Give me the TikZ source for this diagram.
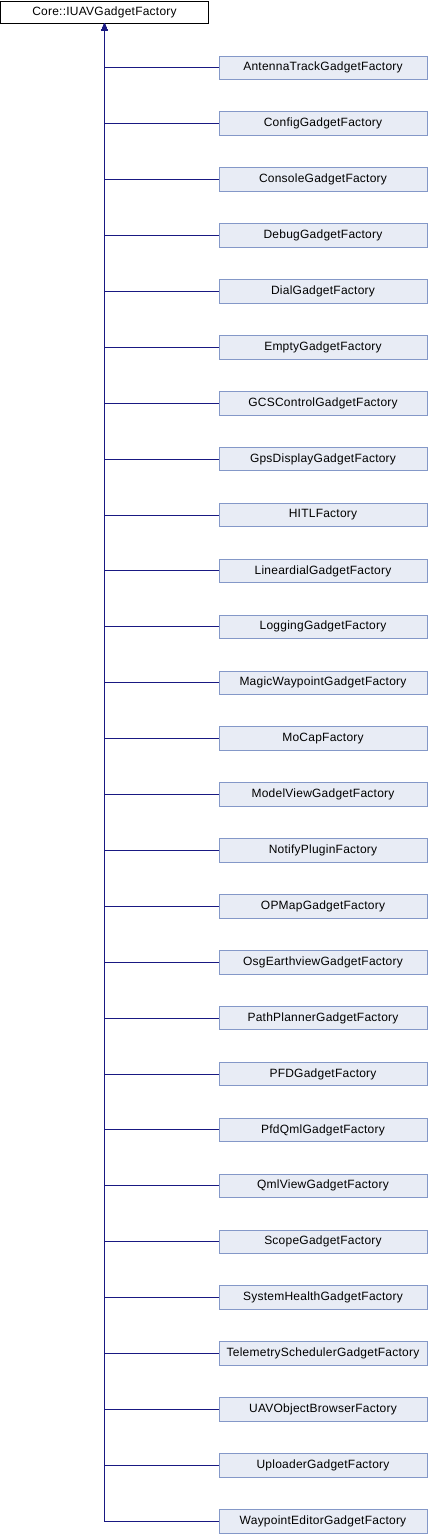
\documentclass[tikz,border=0pt]{standalone}
\usepackage{fontspec}
\setmainfont{Liberation Sans}[LetterSpace=2]
\usetikzlibrary{arrows.meta}
\definecolor{edgeblue}{RGB}{25,25,130}
\definecolor{boxfill}{RGB}{232,236,245}
\definecolor{boxline}{RGB}{132,152,200}
\begin{document}
\begin{tikzpicture}[x=1pt,y=-1pt,
  basebox/.style={draw=black,fill=white,line width=0.9pt,minimum width=208pt,minimum height=22pt,inner sep=0pt,font=\fontsize{12}{12}\selectfont},
  childbox/.style={draw=boxline,fill=boxfill,line width=0.9pt,minimum width=208pt,minimum height=23.5pt,inner sep=0pt,font=\fontsize{12}{12}\selectfont},
  edge/.style={draw=edgeblue,line width=1pt,-{Triangle[width=6pt,length=7pt]}}]
\useasboundingbox (0,0) rectangle (428,1536);
\node[basebox] (base) at (104.5,12) {Core::IUAVGadgetFactory};
\foreach \name [count=\i from 0] in {AntennaTrackGadgetFactory,ConfigGadgetFactory,ConsoleGadgetFactory,DebugGadgetFactory,DialGadgetFactory,EmptyGadgetFactory,GCSControlGadgetFactory,GpsDisplayGadgetFactory,HITLFactory,LineardialGadgetFactory,LoggingGadgetFactory,MagicWaypointGadgetFactory,MoCapFactory,ModelViewGadgetFactory,NotifyPluginFactory,OPMapGadgetFactory,OsgEarthviewGadgetFactory,PathPlannerGadgetFactory,PFDGadgetFactory,PfdQmlGadgetFactory,QmlViewGadgetFactory,ScopeGadgetFactory,SystemHealthGadgetFactory,TelemetrySchedulerGadgetFactory,UAVObjectBrowserFactory,UploaderGadgetFactory,WaypointEditorGadgetFactory} {
  \node[childbox] (c\i) at (323,67.8+55.9*\i) {\name};
  \draw[edge] (c\i.west) -| (base.south);
}
\end{tikzpicture}
\end{document}
